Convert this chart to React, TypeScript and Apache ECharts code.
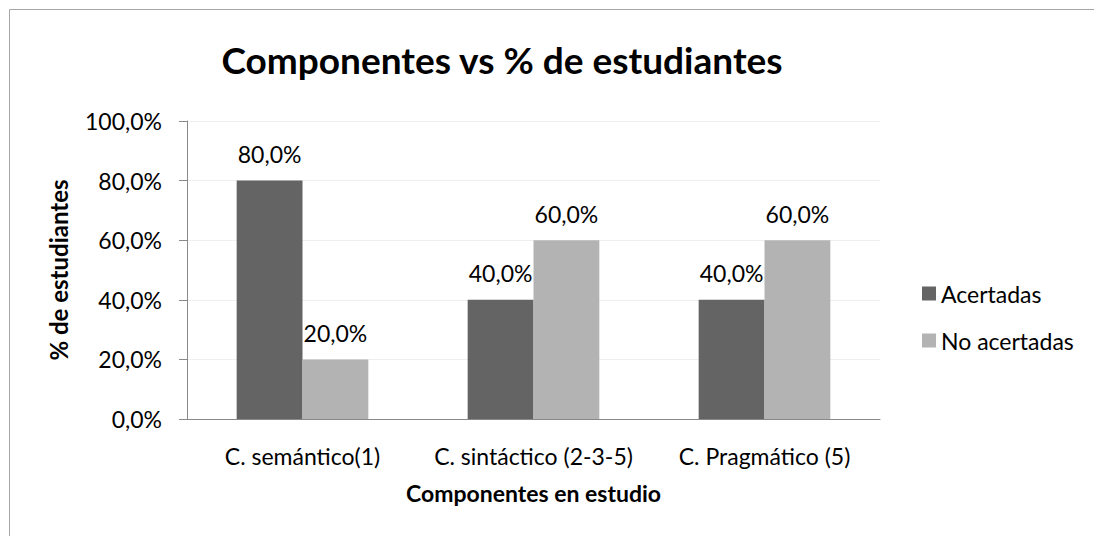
import React, { useEffect, useRef } from "react";
import * as echarts from "echarts";

const categories = ["C. semántico(1)", "C. sintáctico (2-3-5)", "C. Pragmático (5)"];
const acertadas = [80, 40, 40];
const noAcertadas = [20, 60, 60];
const yTicks = [0, 20, 40, 60, 80, 100];

const FONT = "Lato";
const fmt = (v: number) => v.toFixed(1).replace(".", ",") + "%";

export default function App() {
  const ref = useRef<HTMLDivElement>(null);
  useEffect(() => {
    document.body.style.margin = "0";
    const chart = echarts.init(ref.current!, null, { renderer: "svg" });
    const barLabel = {
      show: true,
      position: "top",
      distance: 15,
      fontFamily: FONT,
      fontSize: 23,
      color: "#000",
      formatter: (p: any) => fmt(p.value),
    };
    chart.setOption({
      animation: false,
      backgroundColor: "#ffffff",
      textStyle: { fontFamily: FONT },
      title: {
        text: "Componentes vs % de estudiantes",
        left: 497,
        textAlign: "center",
        top: 36,
        textStyle: { fontFamily: FONT, fontWeight: "bold", fontSize: 37, color: "#000" },
      },
      graphic: [
        {
          type: "rect",
          shape: { x: 9.5, y: 9.5, width: 1200, height: 700 },
          style: { fill: "none", stroke: "#a6a6a6", lineWidth: 1 },
          silent: true,
        },
      ],
      legend: {
        orient: "vertical",
        left: 917,
        top: 277,
        itemWidth: 14,
        itemHeight: 14,
        itemGap: 24,
        icon: "rect",
        textStyle: { fontFamily: FONT, fontSize: 23, color: "#000", padding: [0, 0, 0, 0] },
        data: ["Acertadas", "No acertadas"],
      },
      grid: { left: 187, right: 214, top: 121, bottom: 117, containLabel: false },
      xAxis: {
        type: "category",
        data: categories,
        axisLine: { show: true, lineStyle: { color: "#898989", width: 1 } },
        axisTick: { show: false },
        axisLabel: { fontFamily: FONT, fontSize: 23, color: "#000", margin: 25, interval: 0 },
        name: "Componentes en estudio",
        nameLocation: "middle",
        nameGap: 62,
        nameTextStyle: { fontFamily: FONT, fontWeight: "bold", fontSize: 23, color: "#000" },
      },
      yAxis: {
        type: "value",
        min: 0,
        max: 100,
        interval: 20,
        axisLine: { show: true, lineStyle: { color: "#898989", width: 1 } },
        axisTick: { show: true, inside: false, length: 8, lineStyle: { color: "#898989" } },
        axisLabel: {
          fontFamily: FONT,
          fontSize: 23,
          color: "#000",
          margin: 25,
          formatter: (v: number) => (yTicks.includes(v) ? fmt(v) : ""),
        },
        splitLine: { show: true, lineStyle: { color: "#efefef", width: 1 } },
        name: "% de estudiantes",
        nameLocation: "middle",
        nameGap: 117,
        nameRotate: 90,
        nameTextStyle: { fontFamily: FONT, fontWeight: "bold", fontSize: 24, color: "#000" },
      },
      series: [
        {
          name: "Acertadas",
          type: "bar",
          data: acertadas,
          itemStyle: { color: "#646464" },
          barGap: "0%",
          barCategoryGap: "43%",
          label: barLabel,
        },
        {
          name: "No acertadas",
          type: "bar",
          data: noAcertadas,
          itemStyle: { color: "#b3b3b3" },
          barGap: "0%",
          barCategoryGap: "43%",
          label: barLabel,
        },
      ],
    });
    return () => chart.dispose();
  }, []);
  return <div ref={ref} style={{ width: 1094, height: 536 }} />;
}
